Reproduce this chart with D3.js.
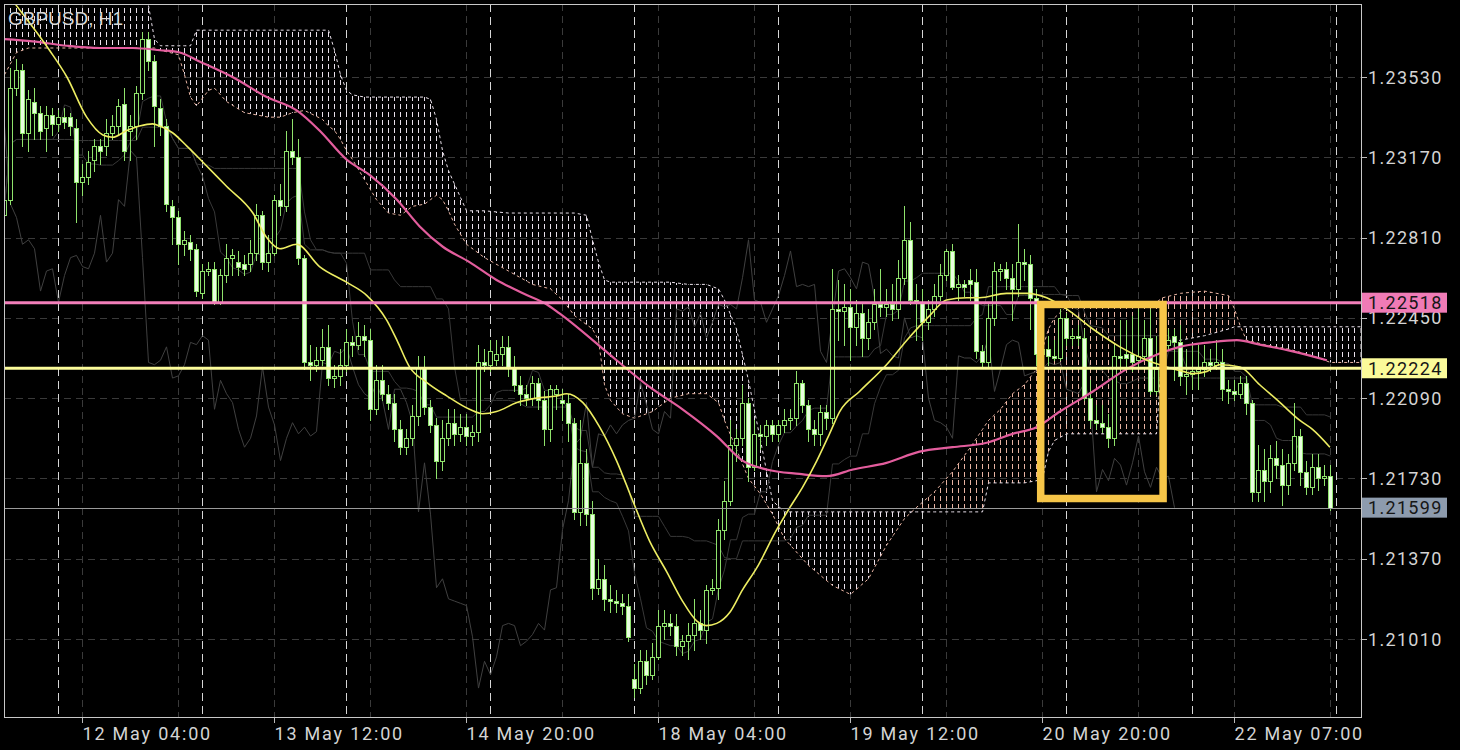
<!DOCTYPE html>
<html><head><meta charset="utf-8">
<script src="https://cdnjs.cloudflare.com/ajax/libs/d3/7.8.5/d3.min.js"></script>
<style>html,body{margin:0;padding:0;background:#000;overflow:hidden}svg{display:block}</style>
</head><body>
<svg id="chart" width="1460" height="750"></svg>
<script>
// ---------------- DATA ----------------
const title = "GBPUSD, H1";
const open = [
1.2291,1.2298,1.2348,1.2356,1.2328,1.2342,1.2337,1.2330,1.2336,1.2332,
1.2335,1.2335,1.2330,1.2306,1.2308,1.2316,1.2322,1.2322,1.2328,1.2331,
1.2341,1.2329,1.2331,1.2346,1.2370,1.2360,1.2339,1.2331,1.2295,1.2290,
1.2278,1.2279,1.2276,1.2256,1.2266,1.2267,1.2252,1.2264,1.2272,1.2270,
1.2269,1.2269,1.2274,1.2291,1.2270,1.2274,1.2298,1.2295,1.2320,1.2317,
1.2272,1.2225,1.2224,1.2226,1.2232,1.2218,1.2219,1.2224,1.2234,1.2233,
1.2237,1.2235,1.2204,1.2217,1.2211,1.2207,1.2195,1.2187,1.2191,1.2201,
1.2223,1.2205,1.2197,1.2181,1.2191,1.2198,1.2193,1.2196,1.2192,1.2194,
1.2225,1.2224,1.2226,1.2229,1.2232,1.2223,1.2215,1.2211,1.2209,1.2216,
1.2208,1.2195,1.2211,1.2208,1.2207,1.2198,1.2158,1.2180,1.2157,1.2124,
1.2128,1.2119,1.2118,1.2117,1.2116,1.2083,1.2079,1.2091,1.2085,1.2093,
1.2107,1.2108,1.2107,1.2098,1.2100,1.2103,1.2108,1.2105,1.2123,1.2124,
1.2150,1.2163,1.2188,1.2191,1.2207,1.2178,1.2193,1.2192,1.2197,1.2193,
1.2197,1.2199,1.2200,1.2216,1.2206,1.2195,1.2193,1.2203,1.2200,1.2249,
1.2248,1.2250,1.2241,1.2247,1.2236,1.2243,1.2251,1.2250,1.2251,1.2249,
1.2263,1.2280,1.2253,1.2252,1.2243,1.2249,1.2255,1.2264,1.2275,1.2259,
1.2260,1.2262,1.2261,1.2230,1.2225,1.2245,1.2266,1.2267,1.2263,1.2258,
1.2270,1.2269,1.2254,1.2229,1.2231,1.2228,1.2227,1.2245,1.2236,1.2237,
1.2236,1.2209,1.2199,1.2198,1.2196,1.2191,1.2228,1.2229,1.2229,1.2226,
1.2228,1.2236,1.2212,1.2222,1.2233,1.2237,1.2234,1.2219,1.2220,1.2221,
1.2222,1.2225,1.2224,1.2225,1.2213,1.2212,1.2211,1.2216,1.2207,1.2167,
1.2177,1.2172,1.2182,1.2179,1.2170,1.2180,1.2192,1.2176,1.2169,1.2178,
1.2173,1.2174];
const high = [
1.2302,1.2357,1.2361,1.2359,1.2347,1.2348,1.2340,1.2340,1.2339,1.2338,
1.2339,1.2337,1.2334,1.2314,1.2320,1.2325,1.2325,1.2334,1.2336,1.2343,
1.2348,1.2336,1.2349,1.2373,1.2373,1.2363,1.2343,1.2334,1.2298,1.2293,
1.2284,1.2282,1.2278,1.2269,1.2270,1.2270,1.2267,1.2278,1.2276,1.2275,
1.2273,1.2280,1.2296,1.2293,1.2282,1.2300,1.2305,1.2329,1.2334,1.2325,
1.2273,1.2233,1.2232,1.2240,1.2242,1.2224,1.2231,1.2240,1.2237,1.2243,
1.2242,1.2240,1.2224,1.2224,1.2215,1.2211,1.2199,1.2195,1.2206,1.2228,
1.2228,1.2208,1.2200,1.2199,1.2204,1.2204,1.2202,1.2202,1.2197,1.2233,
1.2231,1.2235,1.2235,1.2237,1.2237,1.2228,1.2219,1.2215,1.2219,1.2218,
1.2212,1.2215,1.2215,1.2213,1.2211,1.2200,1.2199,1.2186,1.2163,1.2137,
1.2134,1.2125,1.2123,1.2121,1.2121,1.2090,1.2096,1.2096,1.2099,1.2114,
1.2114,1.2112,1.2112,1.2103,1.2108,1.2119,1.2114,1.2125,1.2128,1.2155,
1.2172,1.2199,1.2195,1.2215,1.2209,1.2199,1.2197,1.2199,1.2199,1.2199,
1.2204,1.2204,1.2221,1.2217,1.2208,1.2199,1.2206,1.2206,1.2267,1.2262,
1.2260,1.2258,1.2253,1.2251,1.2249,1.2258,1.2267,1.2258,1.2260,1.2271,
1.2295,1.2288,1.2260,1.2258,1.2253,1.2260,1.2269,1.2276,1.2278,1.2264,
1.2262,1.2267,1.2267,1.2233,1.2251,1.2270,1.2269,1.2270,1.2269,1.2287,
1.2276,1.2273,1.2258,1.2237,1.2237,1.2235,1.2249,1.2247,1.2240,1.2242,
1.2240,1.2217,1.2206,1.2206,1.2202,1.2233,1.2244,1.2244,1.2246,1.2249,
1.2244,1.2249,1.2237,1.2237,1.2240,1.2240,1.2242,1.2231,1.2233,1.2233,
1.2233,1.2231,1.2235,1.2231,1.2217,1.2217,1.2219,1.2219,1.2208,1.2188,
1.2186,1.2188,1.2190,1.2186,1.2184,1.2207,1.2195,1.2181,1.2184,1.2184,
1.2179,1.2179];
const low = [
1.2289,1.2296,1.2345,1.2322,1.2320,1.2325,1.2325,1.2320,1.2327,1.2329,
1.2330,1.2327,1.2288,1.2300,1.2305,1.2311,1.2314,1.2318,1.2325,1.2327,
1.2316,1.2316,1.2325,1.2343,1.2356,1.2322,1.2327,1.2293,1.2278,1.2269,
1.2273,1.2271,1.2255,1.2254,1.2264,1.2251,1.2251,1.2261,1.2264,1.2264,
1.2264,1.2266,1.2271,1.2267,1.2266,1.2273,1.2291,1.2293,1.2314,1.2269,
1.2222,1.2217,1.2221,1.2224,1.2215,1.2214,1.2215,1.2221,1.2228,1.2231,
1.2228,1.2199,1.2202,1.2208,1.2204,1.2190,1.2184,1.2184,1.2188,1.2197,
1.2202,1.2194,1.2173,1.2177,1.2188,1.2188,1.2190,1.2188,1.2188,1.2190,
1.2221,1.2221,1.2224,1.2224,1.2219,1.2212,1.2206,1.2206,1.2206,1.2204,
1.2188,1.2190,1.2204,1.2199,1.2190,1.2155,1.2152,1.2152,1.2119,1.2121,
1.2114,1.2113,1.2113,1.2112,1.2100,1.2075,1.2077,1.2081,1.2083,1.2092,
1.2101,1.2103,1.2094,1.2094,1.2092,1.2096,1.2101,1.2099,1.2121,1.2119,
1.2146,1.2161,1.2181,1.2188,1.2172,1.2177,1.2186,1.2188,1.2190,1.2190,
1.2194,1.2195,1.2197,1.2203,1.2190,1.2188,1.2188,1.2195,1.2198,1.2235,
1.2233,1.2226,1.2233,1.2228,1.2231,1.2240,1.2246,1.2246,1.2244,1.2245,
1.2260,1.2251,1.2235,1.2235,1.2240,1.2246,1.2253,1.2262,1.2258,1.2253,
1.2255,1.2253,1.2227,1.2223,1.2223,1.2242,1.2262,1.2258,1.2244,1.2255,
1.2262,1.2240,1.2224,1.2226,1.2224,1.2226,1.2226,1.2233,1.2233,1.2233,
1.2208,1.2196,1.2195,1.2194,1.2187,1.2188,1.2222,1.2222,1.2221,1.2222,
1.2226,1.2211,1.2211,1.2218,1.2231,1.2217,1.2215,1.2211,1.2213,1.2213,
1.2219,1.2221,1.2222,1.2208,1.2207,1.2208,1.2209,1.2202,1.2163,1.2163,
1.2163,1.2167,1.2173,1.2161,1.2166,1.2177,1.2170,1.2166,1.2166,1.2168,
1.2170,1.2159];
const close = [
1.2298,1.2348,1.2356,1.2328,1.2343,1.2337,1.2329,1.2336,1.2332,1.2335,
1.2333,1.2331,1.2306,1.2308,1.2315,1.2322,1.2320,1.2328,1.2331,1.2340,
1.2320,1.2331,1.2346,1.2370,1.2360,1.2340,1.2331,1.2296,1.2290,1.2278,
1.2280,1.2276,1.2257,1.2266,1.2267,1.2252,1.2264,1.2272,1.2273,1.2268,
1.2267,1.2274,1.2291,1.2270,1.2274,1.2298,1.2295,1.2320,1.2317,1.2272,
1.2225,1.2224,1.2226,1.2232,1.2218,1.2219,1.2224,1.2234,1.2233,1.2237,
1.2235,1.2204,1.2217,1.2211,1.2207,1.2195,1.2187,1.2191,1.2201,1.2223,
1.2205,1.2197,1.2181,1.2191,1.2198,1.2193,1.2196,1.2192,1.2194,1.2225,
1.2224,1.2230,1.2229,1.2232,1.2223,1.2215,1.2211,1.2209,1.2216,1.2208,
1.2195,1.2213,1.2213,1.2207,1.2198,1.2158,1.2180,1.2157,1.2124,1.2128,
1.2119,1.2118,1.2117,1.2116,1.2102,1.2079,1.2091,1.2085,1.2093,1.2107,
1.2108,1.2107,1.2098,1.2100,1.2103,1.2108,1.2105,1.2123,1.2124,1.2150,
1.2163,1.2188,1.2191,1.2207,1.2178,1.2193,1.2192,1.2197,1.2193,1.2197,
1.2199,1.2200,1.2216,1.2206,1.2195,1.2193,1.2203,1.2200,1.2249,1.2248,
1.2250,1.2241,1.2247,1.2236,1.2243,1.2251,1.2250,1.2251,1.2249,1.2263,
1.2280,1.2253,1.2252,1.2243,1.2249,1.2255,1.2264,1.2275,1.2259,1.2260,
1.2259,1.2260,1.2230,1.2225,1.2245,1.2266,1.2267,1.2263,1.2258,1.2270,
1.2269,1.2254,1.2229,1.2231,1.2228,1.2227,1.2245,1.2236,1.2237,1.2236,
1.2209,1.2199,1.2198,1.2196,1.2191,1.2228,1.2227,1.2227,1.2225,1.2228,
1.2236,1.2212,1.2222,1.2233,1.2235,1.2234,1.2219,1.2220,1.2221,1.2222,
1.2225,1.2224,1.2225,1.2213,1.2212,1.2211,1.2216,1.2207,1.2167,1.2177,
1.2172,1.2182,1.2179,1.2170,1.2180,1.2192,1.2176,1.2169,1.2178,1.2173,
1.2174,1.21599];

// fast (yellow) and slow (pink) moving averages, read as [bar, price]
const maFastBars = [0,2,7.5,10.4,13.7,16.4,18,20.4,22.5,24.7,25.9,28,30.4,33,37,41.4,43.7,45.9,48.7,52.5,57,60.4,63.7,65.4,67.5,70.4,73.7,77.5,79.7,82,85.4,88.7,92,93.7,96.4,99.2,102,104.7,107.5,110.4,113,115.4,117,118.7,120.9,123,125.4,128.7,130.9,133,135.4,137.5,139.2,142.5,147,150.4,154.2,157,160.4,162.5,167,170.4,173.7,177,181.4,185.9,190.4,193.7,196.4,198,200.4,202.5,205.9,209.2,212.6,215.9,218,220.9];
const maFastVals = [1.2392,1.2385,1.2365,1.2353,1.2335,1.2327,1.2326,1.2329,1.2331,1.2332,1.2331,1.2328,1.2322,1.2315,1.2304,1.2292,1.2281,1.2276,1.2278,1.2268,1.2261,1.2255,1.2244,1.2235,1.2223,1.2216,1.2210,1.2204,1.2202,1.2203,1.2207,1.2209,1.2210,1.2211,1.2207,1.2196,1.2181,1.2163,1.2145,1.2131,1.2118,1.2109,1.2107,1.2108,1.2113,1.2123,1.2133,1.2150,1.2160,1.2169,1.2181,1.2193,1.2203,1.2212,1.2224,1.2235,1.2246,1.2253,1.2254,1.2254,1.2256,1.2256,1.2254,1.2249,1.2240,1.2232,1.2226,1.2223,1.2221,1.2220,1.2221,1.2224,1.2223,1.2215,1.2207,1.2199,1.2195,1.2187];
const maSlowBars = [0,4.7,10.4,15.9,21.4,25.9,29.2,32.5,38,43.7,48.7,52.5,57,60.9,65.4,69.2,73,77.5,82,86.4,90.4,92.5,102,107.5,113,118.7,123,127,132.5,137,141.4,147,152.5,158,163.7,168,172,175.9,181.4,187,192.5,195.9,200.9,205.4,209.2,214.7,220.4];
const maSlowVals = [1.2370,1.2369,1.2367,1.2366,1.2366,1.2365,1.2364,1.2360,1.2353,1.2344,1.2338,1.2329,1.2316,1.2309,1.2298,1.2286,1.2277,1.2270,1.2262,1.2256,1.2251,1.2247,1.2226,1.2214,1.2204,1.2192,1.2181,1.2177,1.2175,1.2174,1.2177,1.2180,1.2185,1.2187,1.2189,1.2193,1.2196,1.2203,1.2212,1.2222,1.2229,1.2232,1.2234,1.2235,1.2233,1.2230,1.2226];

// Ichimoku cloud (senkou spans, already shifted) read at these bar positions
const cloudBars = [
0,2,4,23,24,25,26,29,30,31,
32,34,35,37,40,44,46,48,50,53,
54,55,56,57,58,60,62,64,66,68,
70,71,72,73,74,75,77,80,84,88,
91,93,95,97,98,99,100,101,103,105,
108,111,114,117,119,120,122,124,126,128,
130,134,138,141,144,147,150,152,155,158,
161,163,164,166,168,170,172,173,174,175,
177,185,191,192,193,196,200,204,205,206,
207,210,214,218,221,223,226];
const spanA = [
1.2354,1.2364,1.2366,1.2366,1.2366,1.2366,1.2365,1.2363,1.2354,1.2344,
1.2340,1.2347,1.2348,1.2342,1.2337,1.2335,1.2335,1.2337,1.2338,1.2334,
1.2331,1.2329,1.2325,1.2320,1.2316,1.2307,1.2298,1.2292,1.2291,1.2295,
1.2296,1.2298,1.2300,1.2298,1.2293,1.2287,1.2278,1.2272,1.2266,1.2260,
1.2258,1.2253,1.2246,1.2242,1.2240,1.2235,1.2215,1.2208,1.2202,1.2200,
1.2203,1.2209,1.2211,1.2211,1.2207,1.2199,1.2186,1.2173,1.2166,1.2157,
1.2146,1.2134,1.2125,1.2121,1.2128,1.2143,1.2155,1.2160,1.2167,1.2176,
1.2187,1.2195,1.2199,1.2204,1.2211,1.2215,1.2222,1.2231,1.2240,1.2245,
1.2250,1.2251,1.2251,1.2252,1.2254,1.2256,1.2257,1.2255,1.2249,1.2241,
1.2235,1.2233,1.2231,1.2228,1.2225,1.2225,1.2225];
const spanB = [
1.2401,1.2401,1.2401,1.2401,1.2385,1.2370,1.2367,1.2367,1.2367,1.2367,
1.2374,1.2374,1.2374,1.2374,1.2374,1.2374,1.2374,1.2374,1.2374,1.2374,
1.2374,1.2365,1.2354,1.2347,1.2345,1.2344,1.2344,1.2344,1.2344,1.2344,
1.2344,1.2343,1.2334,1.2320,1.2311,1.2305,1.2293,1.2293,1.2292,1.2292,
1.2292,1.2292,1.2292,1.2291,1.2280,1.2270,1.2262,1.2261,1.2261,1.2261,
1.2261,1.2261,1.2260,1.2260,1.2258,1.2253,1.2240,1.2217,1.2190,1.2163,
1.2158,1.2158,1.2158,1.2158,1.2158,1.2158,1.2158,1.2158,1.2158,1.2158,
1.2158,1.2158,1.2171,1.2171,1.2171,1.2171,1.2172,1.2173,1.2185,1.2190,
1.2193,1.2193,1.2193,1.2193,1.2233,1.2235,1.2237,1.2240,1.2241,1.2241,
1.2241,1.2241,1.2241,1.2241,1.2241,1.2241,1.2241];

const priceTicks = [1.23530,1.23170,1.22810,1.22450,1.22090,1.21730,1.21370,1.21010];
const timeTickBars = [13,45,77,109,141,173,205];
const timeTickLabels = ["12 May 04:00","13 May 12:00","14 May 20:00","18 May 04:00","19 May 12:00","20 May 20:00","22 May 07:00"];
const daySeparatorBars = [9,33,57,81,105,129,153,177,198,222];
const levelPrices = [1.22518,1.22224];
const bidPrice = 1.21599;
const boxBars = [172.7,193.1];
const boxPrices = [1.2251,1.2164];

// ---------------- LAYOUT ----------------
const svg = d3.select("#chart");
const P = {l:4, r:1362, t:4, b:718};
const x = d3.scaleLinear().domain([0,221]).range([4.5,1330.5]);
const y = d3.scaleLinear().domain([1.21010,1.23530]).range([639,77]);
const GREEN = "#8fe26c";

svg.append("rect").attr("width",1460).attr("height",750).attr("fill","#000");
const defs = svg.append("defs");
defs.append("clipPath").attr("id","plotClip").append("rect")
  .attr("x",P.l).attr("y",P.t).attr("width",P.r-P.l).attr("height",P.b-P.t);
function hatch(id,color){
  const p = defs.append("pattern").attr("id",id).attr("patternUnits","userSpaceOnUse")
    .attr("width",6).attr("height",8).attr("x",1).attr("y",0);
  p.append("rect").attr("x",3).attr("y",0).attr("width",1).attr("height",5)
    .attr("fill",color).attr("shape-rendering","crispEdges");
}
const SANDY = "#e8b3a2", THISTLE = "#e9e0ea";
hatch("hatchBull",SANDY); hatch("hatchBear",THISTLE);

const g = svg.append("g").attr("clip-path","url(#plotClip)");

// grid
g.selectAll(".hg").data(priceTicks).join("line")
  .attr("x1",P.l).attr("x2",P.r).attr("y1",d=>Math.round(y(d))+0.5).attr("y2",d=>Math.round(y(d))+0.5)
  .attr("stroke","#3a3a3a").attr("stroke-dasharray","7,5");
g.selectAll(".vg").data(d3.range(13,222,16)).join("line")
  .attr("x1",d=>x(d)).attr("x2",d=>x(d)).attr("y1",P.t).attr("y2",P.b)
  .attr("stroke","#3a3a3a").attr("stroke-dasharray","7,5");
g.selectAll(".sep").data(daySeparatorBars).join("line")
  .attr("x1",d=>x(d)).attr("x2",d=>x(d)).attr("y1",P.t).attr("y2",P.b)
  .attr("stroke","#d6d6d6").attr("stroke-dasharray","8,5");

// cloud
const cloud = cloudBars.map((b,i)=>({bar:b,a:spanA[i],b2:spanB[i]}));
g.append("path").datum(cloud).attr("fill","url(#hatchBull)")
  .attr("d",d3.area().x(d=>x(d.bar)).y0(d=>y(d.b2)).y1(d=>y(Math.max(d.a,d.b2))));
g.append("path").datum(cloud).attr("fill","url(#hatchBear)")
  .attr("d",d3.area().x(d=>x(d.bar)).y0(d=>y(d.a)).y1(d=>y(Math.max(d.a,d.b2))));
g.append("path").datum(cloud).attr("fill","none").attr("stroke",SANDY).attr("stroke-dasharray","3,3")
  .attr("d",d3.line().x(d=>x(d.bar)).y(d=>y(d.a)));
g.append("path").datum(cloud).attr("fill","none").attr("stroke",THISTLE).attr("stroke-dasharray","3,3")
  .attr("d",d3.line().x(d=>x(d.bar)).y(d=>y(d.b2)));

// tenkan / kijun / chikou (derived from candles)
function mid(period){
  return close.map((_,i)=>{const s=Math.max(0,i-period+1);
    return (d3.max(high.slice(s,i+1))+d3.min(low.slice(s,i+1)))/2;});
}
const grayLine = d3.line().x(d=>x(d[0])).y(d=>y(d[1]));
[mid(9),mid(26)].forEach(arr=>{
  g.append("path").datum(arr.map((v,i)=>[i,v])).attr("fill","none")
   .attr("stroke","#383838").attr("stroke-width",1).attr("d",grayLine);
});
g.append("path").datum(close.slice(26).map((v,i)=>[i,v])).attr("fill","none")
  .attr("stroke","#404040").attr("stroke-width",1).attr("d",grayLine);

// candles
const candles = close.map((c,i)=>({i,o:open[i],h:high[i],l:low[i],c}));
const cg = g.append("g");
cg.selectAll(".wick").data(candles).join("line")
  .attr("x1",d=>x(d.i)).attr("x2",d=>x(d.i))
  .attr("y1",d=>Math.round(y(d.h))).attr("y2",d=>Math.round(y(d.l))+1)
  .attr("stroke",GREEN).attr("stroke-width",1);
cg.selectAll(".body").data(candles).join("rect")
  .attr("x",d=>x(d.i)-2).attr("width",4)
  .attr("y",d=>Math.round(y(Math.max(d.o,d.c)))+0.5)
  .attr("height",d=>Math.max(0,Math.round(y(Math.min(d.o,d.c)))-Math.round(y(Math.max(d.o,d.c)))))
  .attr("fill",d=>d.c>=d.o?"#000":"#e9ffe0")
  .attr("stroke",GREEN).attr("stroke-width",1);

// moving averages
const maLine = d3.line().x(d=>x(d[0])).y(d=>y(d[1])).curve(d3.curveMonotoneX);
g.append("path").datum(maSlowBars.map((b,i)=>[b,maSlowVals[i]])).attr("fill","none")
  .attr("stroke","#e35d9d").attr("stroke-width",2.2).attr("d",maLine);
g.append("path").datum(maFastBars.map((b,i)=>[b,maFastVals[i]])).attr("fill","none")
  .attr("stroke","#eded62").attr("stroke-width",1.6).attr("d",maLine);

// level lines
const levelColors = ["#f27fba","#fbfb9a"];
g.selectAll(".lvl").data(levelPrices).join("line")
  .attr("x1",P.l).attr("x2",P.r).attr("y1",d=>y(d)).attr("y2",d=>y(d))
  .attr("stroke",(d,i)=>levelColors[i]).attr("stroke-width",3);
g.append("line").attr("x1",P.l).attr("x2",P.r)
  .attr("y1",Math.round(y(bidPrice))+0.5).attr("y2",Math.round(y(bidPrice))+0.5)
  .attr("stroke","#9a9a9a").attr("stroke-width",1);

// annotation box
g.append("rect").attr("x",x(boxBars[0])).attr("y",y(boxPrices[0]))
  .attr("width",x(boxBars[1])-x(boxBars[0])).attr("height",y(boxPrices[1])-y(boxPrices[0]))
  .attr("fill","none").attr("stroke","#f6c548").attr("stroke-width",7.5);

// border
svg.append("rect").attr("x",P.l+0.5).attr("y",P.t+0.5).attr("width",P.r-P.l-1).attr("height",P.b-P.t-1)
  .attr("fill","none").attr("stroke","#c8c8c8").attr("stroke-width",1);

// axes
const FONT = "Roboto, 'Noto Sans', sans-serif";
svg.selectAll(".ptick").data(priceTicks).join("line")
  .attr("x1",P.r).attr("x2",P.r+5).attr("y1",d=>Math.round(y(d))+0.5).attr("y2",d=>Math.round(y(d))+0.5)
  .attr("stroke","#bbb");
svg.selectAll(".plab").data(priceTicks).join("text")
  .attr("x",1368).attr("y",d=>y(d)+6.5)
  .attr("fill","#d4d4d4").attr("font-family",FONT).attr("font-size",18)
  .attr("letter-spacing","1.3px").text(d=>d.toFixed(5));
svg.selectAll(".ttick").data(timeTickBars).join("line")
  .attr("x1",d=>x(d)).attr("x2",d=>x(d)).attr("y1",P.b).attr("y2",P.b+5).attr("stroke","#bbb");
svg.selectAll(".tlab").data(timeTickBars).join("text")
  .attr("x",d=>x(d)).attr("y",740)
  .attr("fill","#d4d4d4").attr("font-family",FONT).attr("font-size",18)
  .attr("letter-spacing","1.8px").text((d,i)=>timeTickLabels[i]);

// price boxes
const boxes = [
  {p:levelPrices[0], fill:"#f07bb6"},
  {p:levelPrices[1], fill:"#fbfb9a"},
  {p:bidPrice, fill:"#8d9bad"}];
boxes.forEach(b=>{
  const yy = y(b.p);
  svg.append("rect").attr("x",P.r).attr("y",yy-10).attr("width",85).attr("height",20).attr("fill",b.fill);
  svg.append("text").attr("x",1368).attr("y",yy+6.5).attr("fill","#161616")
    .attr("font-family",FONT).attr("font-size",18).attr("letter-spacing","1.3px").text(b.p.toFixed(5));
});

// title
svg.append("text").attr("x",8).attr("y",25).attr("fill","#d8d8d8")
  .attr("font-family","'Liberation Sans', Arial, sans-serif").attr("font-size",19).text(title);
</script>
</body></html>
